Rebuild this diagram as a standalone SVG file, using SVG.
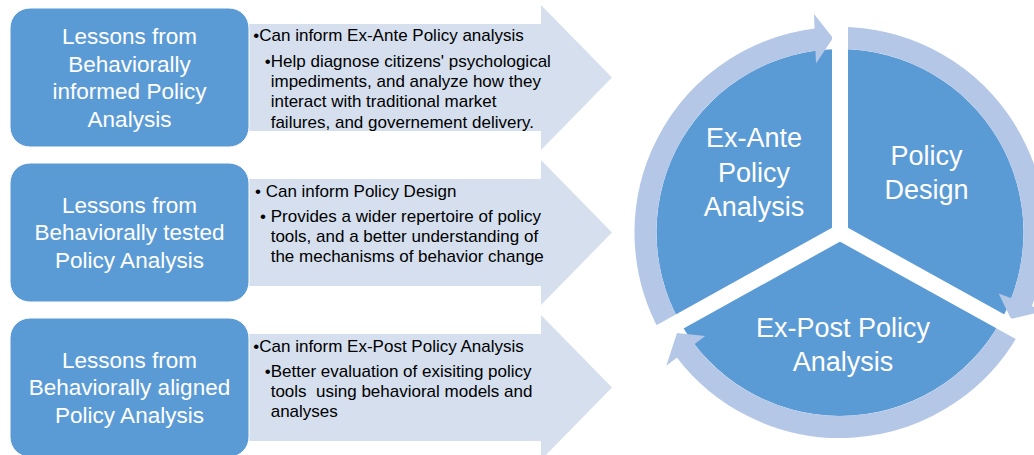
<svg xmlns="http://www.w3.org/2000/svg" width="1034" height="455" viewBox="0 0 1034 455">
<style>
.arrow{fill:#D5DFEE}
.box{fill:#5B9BD5;stroke:#FFFFFF;stroke-width:1}
.boxt{font-family:"Liberation Sans",Arial,sans-serif;font-size:22.5px;fill:#FFFFFF;text-anchor:middle}
.at{font-family:"Liberation Sans",Arial,sans-serif;font-size:17px;fill:#000000}
.seg{fill:#5B9BD5}
.ring{fill:none;stroke:#B4C7E7;stroke-width:22}
.head{fill:#B4C7E7}
.gap{stroke:#FFFFFF;stroke-width:16}
.ct{font-family:"Liberation Sans",Arial,sans-serif;font-size:27px;fill:#FFFFFF;text-anchor:middle}
</style>
<rect width="1034" height="455" fill="#FFFFFF"/>

<g id="arrow1">
<path class="arrow" d="M240,24 L541,24 L541,5 L612,77.5 L541,150 L541,131 L240,131 Z"/>
<text class="at"><tspan x="253.3" y="40.7">•Can inform Ex-Ante Policy analysis</tspan><tspan x="264.8" y="66.7">•Help diagnose citizens' psychological</tspan><tspan x="270.7" y="87">impediments, and analyze how they</tspan><tspan x="270.7" y="107.3">interact with traditional market</tspan><tspan x="270.7" y="127.6">failures, and governement delivery.</tspan></text>
</g>
<g id="arrow2">
<path class="arrow" d="M240,179 L541,179 L541,160 L612,232.5 L541,305 L541,286 L240,286 Z"/>
<text class="at"><tspan x="255" y="196.7">• Can inform Policy Design</tspan><tspan x="260" y="221.5">• Provides a wider repertoire of policy</tspan><tspan x="270.7" y="241.5">tools, and a better understanding of</tspan><tspan x="270.7" y="261.5">the mechanisms of behavior change</tspan></text>
</g>
<g id="arrow3">
<path class="arrow" d="M240,334 L541,334 L541,315 L612,387.5 L541,460 L541,441 L240,441 Z"/>
<text class="at"><tspan x="253.3" y="351.5">•Can inform Ex-Post Policy Analysis</tspan><tspan x="264.8" y="376.5">•Better evaluation of exisiting policy</tspan><tspan x="270.7" y="396.5">tools&#160; using behavioral models and</tspan><tspan x="270.7" y="416.5">analyses</tspan></text>
</g>

<g id="box1">
<rect class="box" x="10" y="8" width="239" height="139" rx="20"/>
<text class="boxt"><tspan x="129.5" y="44.3">Lessons from</tspan><tspan x="129.5" y="71.8">Behaviorally</tspan><tspan x="129.5" y="99.3">informed Policy</tspan><tspan x="129.5" y="126.8">Analysis</tspan></text>
</g>
<g id="box2">
<rect class="box" x="10" y="163" width="239" height="139" rx="20"/>
<text class="boxt"><tspan x="129.5" y="212.5">Lessons from</tspan><tspan x="129.5" y="240">Behaviorally tested</tspan><tspan x="129.5" y="267.5">Policy Analysis</tspan></text>
</g>
<g id="box3">
<rect class="box" x="10" y="318" width="239" height="139" rx="20"/>
<text class="boxt"><tspan x="129.5" y="367.5">Lessons from</tspan><tspan x="129.5" y="395">Behaviorally aligned</tspan><tspan x="129.5" y="422.5">Policy Analysis</tspan></text>
</g>

<g id="seg-exante">
<path class="seg" d="M840,232.5 L679.51,321.46 A183.5,183.5 0 0 1 840,49 Z"/>
</g>
<g id="seg-design">
<path class="seg" d="M840,232.5 L840,49 A183.5,183.5 0 0 1 1000.49,321.46 Z"/>
</g>
<g id="seg-expost">
<path class="seg" d="M840,232.5 L1000.49,321.46 A183.5,183.5 0 0 1 679.51,321.46 Z"/>
</g>

<g id="connectors">
<path class="ring" d="M669.89,326.8 A194.5,194.5 0 0 1 818,39.25"/>
<polygon class="head" points="814,14 833,38 816,63.5"/>
<path class="ring" d="M840,38 A194.5,194.5 0 0 1 1020.97,303.78"/>
<polygon class="head" points="998.7,293.4 1011,319 1044.5,311"/>
<path class="ring" d="M1010.11,326.8 A194.5,194.5 0 0 1 684.66,349.55"/>
<polygon class="head" points="705.1,336 677,333 666.3,365.8"/>
</g>

<g id="gaps">
<line class="gap" x1="840" y1="232.5" x2="840" y2="0"/>
<line class="gap" x1="840" y1="232.5" x2="1049.9" y2="348.9"/>
<line class="gap" x1="840" y1="232.5" x2="630.1" y2="348.9"/>
</g>

<g id="labels">
<text class="ct"><tspan x="754" y="147.3">Ex-Ante</tspan><tspan x="754" y="181.5">Policy</tspan><tspan x="754" y="215.5">Analysis</tspan></text>
<text class="ct"><tspan x="926.5" y="165">Policy</tspan><tspan x="926.5" y="199">Design</tspan></text>
<text class="ct"><tspan x="843" y="337">Ex-Post Policy</tspan><tspan x="843" y="371">Analysis</tspan></text>
</g>
</svg>
